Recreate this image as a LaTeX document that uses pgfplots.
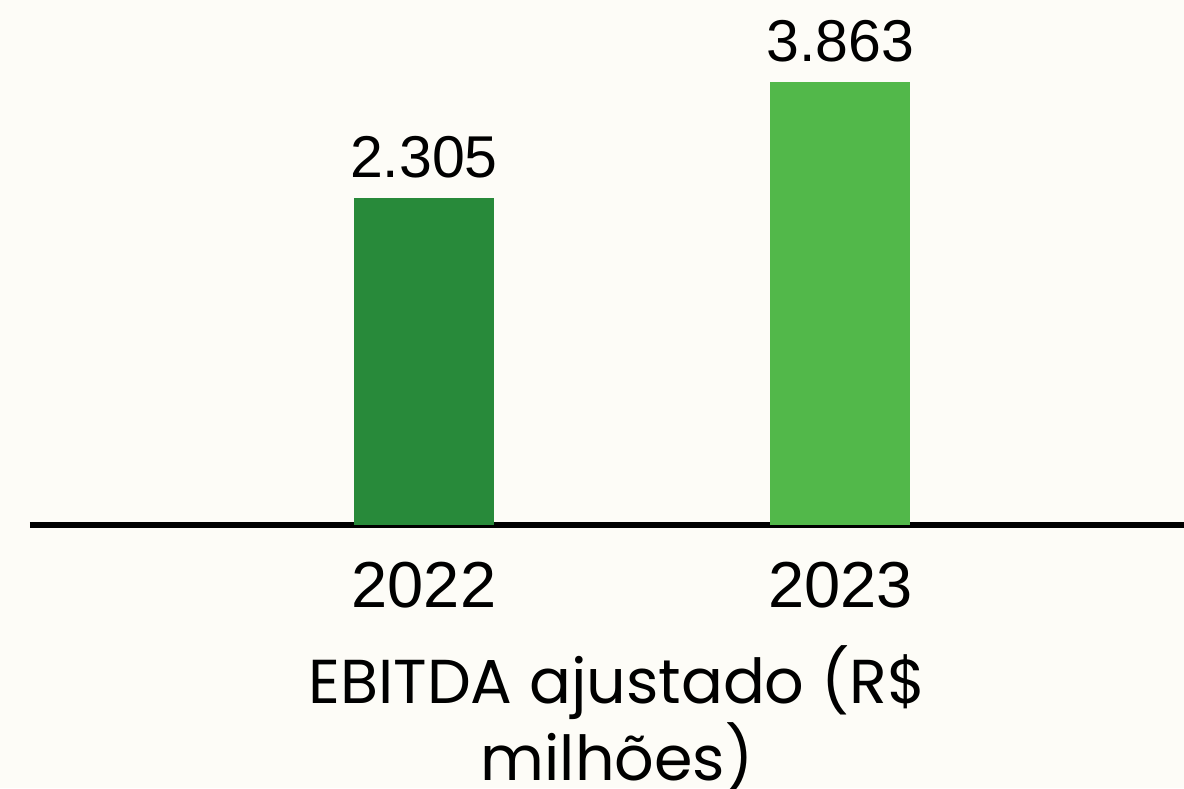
\documentclass[border=0pt]{standalone}
\usepackage{pgfplots}
\pgfplotsset{compat=1.18}
\usepackage{pgfplotstable}
\usepackage{fontspec}
\setmainfont{Liberation Sans}
\newfontfamily\poppins{Poppins}
\definecolor{bg}{HTML}{FDFCF7}
\definecolor{dg}{HTML}{288A3A}
\definecolor{lg}{HTML}{52B84A}
\pgfplotstableread{
x v lab
0 2305 2.305
}\tabA
\pgfplotstableread{
x v lab
1 3863 3.863
}\tabB
\begin{document}
\begin{tikzpicture}
\fill[bg] (-15pt,-131.5pt) rectangle (577pt,262.5pt);
\begin{axis}[
  at={(0,0)}, anchor=south west, scale only axis,
  width=577pt, height=262.5pt,
  xmin=-0.946, xmax=1.825, ymin=0, ymax=7051,
  axis x line=bottom, axis y line=none,
  axis line style={-, line width=3pt, black},
  xtick={0,1}, xticklabels={2022,\raisebox{-2.5pt}{2023}},
  major tick length=0pt,
  xticklabel style={anchor=north, inner sep=0pt, yshift=-18.5pt, font=\fontsize{32.5}{36}\selectfont},
  ybar, bar width=0.336, bar shift=0pt,
  nodes near coords, point meta=explicit symbolic,
  nodes near coords style={anchor=south, inner sep=0pt, yshift=10pt, font=\fontsize{29.5}{32}\selectfont, text=black},
  xlabel={EBITDA ajustado (R\$\\milhões)},
  xlabel style={at={(rel axis cs:0.5,0)}, xshift=5pt, anchor=base, yshift=-127.5pt, align=center, inner sep=0pt, font=\poppins\fontsize{31}{36}\selectfont},
  clip=false,
]
\addplot[fill=dg, draw=none] table[x=x, y expr=\thisrow{v}+2087, meta=lab] {\tabA};
\addplot[fill=lg, draw=none] table[x=x, y expr=\thisrow{v}+2087, meta=lab] {\tabB};
\end{axis}
\pgfresetboundingbox
\useasboundingbox (-15pt,-131.5pt) rectangle (577pt,262.5pt);
\end{tikzpicture}
\end{document}
